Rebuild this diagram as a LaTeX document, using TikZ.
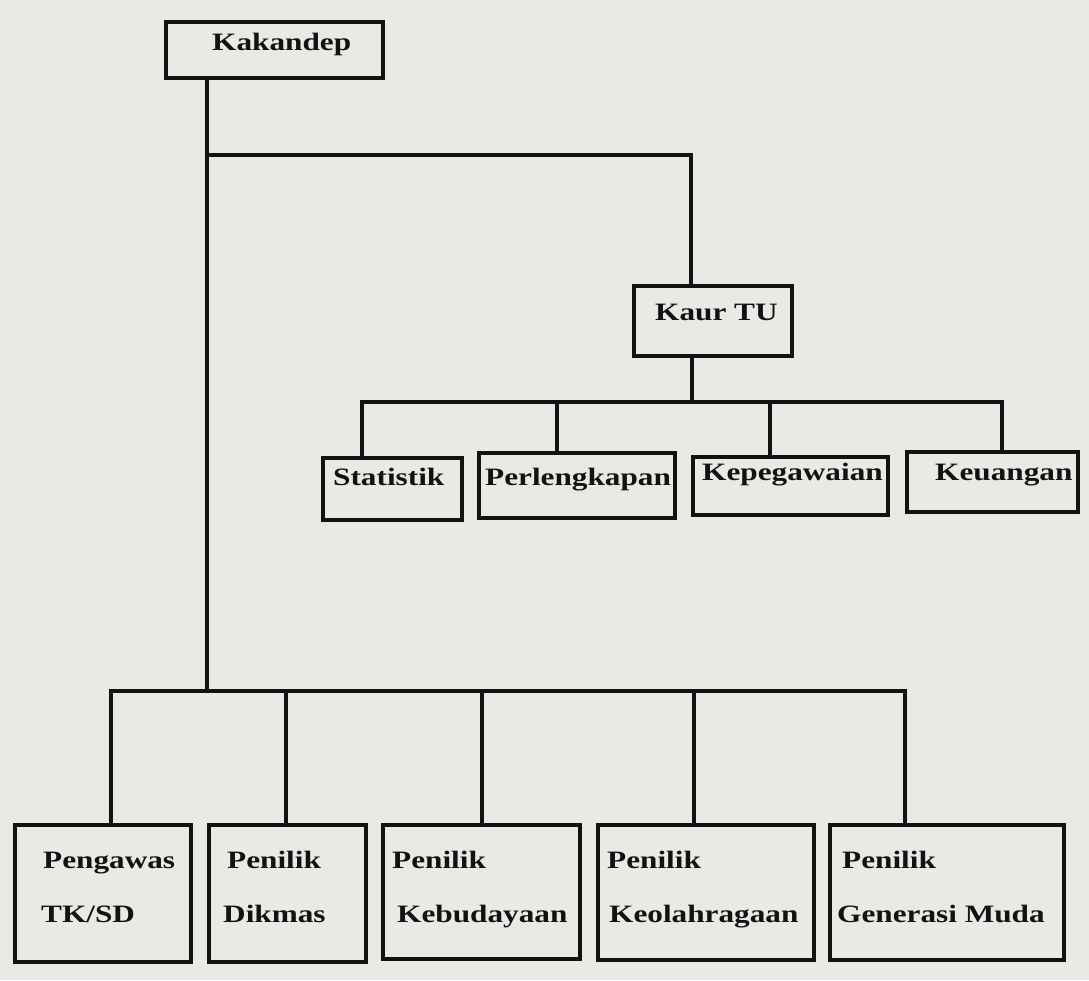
\documentclass[tikz,border=0pt]{standalone}
\usepackage{fontspec}
\setmainfont{Liberation Serif}[FakeStretch=1.25]
\definecolor{paper}{RGB}{235,233,229}
\definecolor{ink}{RGB}{18,18,18}
\begin{document}
\begin{tikzpicture}[x=1pt,y=-1pt,
  box/.style={draw=ink,line width=4pt,rectangle,inner sep=0pt},
  conn/.style={draw=ink,line width=4pt},
  lbl/.style={anchor=base west,inner sep=0pt,text=ink,font=\bfseries\fontsize{25}{25}\selectfont}]
\fill[paper] (0,0) rectangle (1089,980);
\useasboundingbox (0,0) rectangle (1089,980);
% boxes
\node[box,minimum width=217pt,minimum height=56pt] (kak) at (274.5,50) {};
\node[box,minimum width=158pt,minimum height=70pt] (kaur) at (713,321) {};
\node[box,minimum width=139pt,minimum height=62pt] (stat) at (392.5,489) {};
\node[box,minimum width=196pt,minimum height=65pt] (perl) at (577,485.5) {};
\node[box,minimum width=195pt,minimum height=58pt] (kepeg) at (790.5,486) {};
\node[box,minimum width=171pt,minimum height=60pt] (keu) at (992.5,482) {};
\node[box,minimum width=176pt,minimum height=137pt] (tksd) at (103,893.5) {};
\node[box,minimum width=157pt,minimum height=137pt] (dik) at (287.5,893.5) {};
\node[box,minimum width=197pt,minimum height=134pt] (keb) at (481.5,892) {};
\node[box,minimum width=216pt,minimum height=135pt] (keol) at (706,892.5) {};
\node[box,minimum width=234pt,minimum height=135pt] (gen) at (947,892.5) {};
% labels
\node[lbl] (tkak) at (212,50) {Kakandep};
\node[lbl] (tkaur) at (655,320) {Kaur TU};
\node[lbl] (tstat) at (333,485) {Statistik};
\node[lbl] (tperl) at (485,485) {Perlengkapan};
\node[lbl] (tkepeg) at (702,480) {Kepegawaian};
\node[lbl] (tkeu) at (935,480) {Keuangan};
\node[lbl] (ttk1) at (43,868) {Pengawas};
\node[lbl] (ttk2) at (41,922) {TK/SD};
\node[lbl] (tdik1) at (227,868) {Penilik};
\node[lbl] (tdik2) at (223,922) {Dikmas};
\node[lbl] (tkeb1) at (392,868) {Penilik};
\node[lbl] (tkeb2) at (397,922) {Kebudayaan};
\node[lbl] (tkeol1) at (607,868) {Penilik};
\node[lbl] (tkeol2) at (609,922) {Keolahragaan};
\node[lbl] (tgen1) at (842,868) {Penilik};
\node[lbl] (tgen2) at (837,922) {Generasi Muda};
% junctions
\coordinate (j1) at (207,155);
\coordinate (busB) at (207,691);
\coordinate (busT) at (692,402);
% connectors
\draw[conn] ([xshift=-67.5pt]kak.south) -- (busB);
\draw[conn] (j1) -| ([xshift=-22pt]kaur.north);
\draw[conn] ([xshift=-21pt]kaur.south) -- (busT);
\draw[conn] ([xshift=-30.5pt]stat.north) |- (busT) -| ([xshift=9.5pt]keu.north);
\draw[conn] ([xshift=-20pt]perl.north) -- ([xshift=-20pt]perl.north |- busT);
\draw[conn] ([xshift=-20.5pt]kepeg.north) -- ([xshift=-20.5pt]kepeg.north |- busT);
\draw[conn] ([xshift=8pt]tksd.north) |- (busB) -| ([xshift=-42pt]gen.north);
\draw[conn] ([xshift=-1.5pt]dik.north) -- ([xshift=-1.5pt]dik.north |- busB);
\draw[conn] (keb.north) -- (keb.north |- busB);
\draw[conn] ([xshift=-12pt]keol.north) -- ([xshift=-12pt]keol.north |- busB);
\end{tikzpicture}
\end{document}
